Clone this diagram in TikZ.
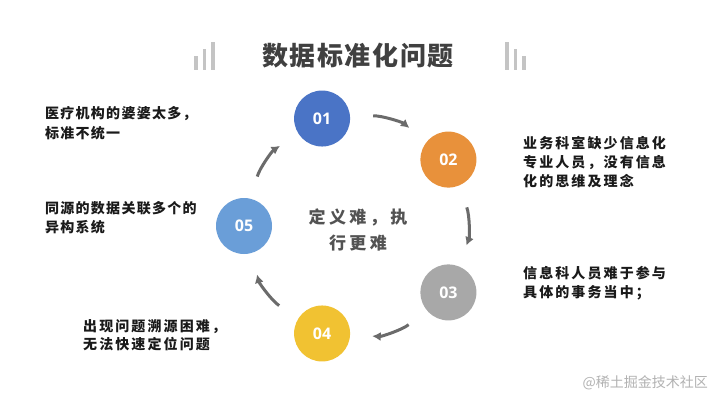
\documentclass[tikz,border=0pt]{standalone}
\usepackage{fontspec}
\setmainfont{Noto Sans CJK SC}
\newfontfamily\numfont{Open Sans}
\newfontfamily\titlefont{Noto Sans CJK SC}[LetterSpace=6]
\newfontfamily\leftfont{Noto Sans CJK SC}[LetterSpace=9]
\newfontfamily\rightfont{Noto Sans CJK SC}[LetterSpace=15]
\newfontfamily\midfont{Noto Sans CJK SC}[LetterSpace=20]
\usetikzlibrary{arrows.meta}
\definecolor{cone}{HTML}{4A74C6}
\definecolor{ctwo}{HTML}{E8913B}
\definecolor{cthree}{HTML}{A8A8A8}
\definecolor{cfour}{HTML}{F1C232}
\definecolor{cfive}{HTML}{6A9ED8}
\definecolor{arrowgray}{HTML}{6B6B6B}
\definecolor{bargray}{HTML}{C4C4C4}
\definecolor{titlegray}{HTML}{404040}
\definecolor{txt}{HTML}{1A1A1A}
\begin{document}
\begin{tikzpicture}[x=1pt,y=1pt,
	num/.style={circle,minimum size=56pt,inner sep=0pt,text=white,font=\numfont\bfseries\fontsize{16}{16}\selectfont},
	note/.style={anchor=west,align=left,inner sep=0pt,text=txt},
	flow/.style={draw=arrowgray,line width=3pt,-{Latex[length=8.5pt,width=9pt]},shorten <=23pt,shorten >=22pt,bend left=21}]
	
	\fill[white](0,0) rectangle (720,405);
	\useasboundingbox (0,0) rectangle (720,405);
	
	\foreach \x/\h in {194/14,202.5/21,211/28}
	\fill[bargray](\x,335) rectangle ++(3.5,\h);
	\foreach \x/\h in {505/28,513.5/21,522/14}
	\fill[bargray](\x,335) rectangle ++(3.5,\h);
	
	\node[text=titlegray,font=\titlefont\bfseries\fontsize{26}{26}\selectfont] (title) at (358,349) {数据标准化问题};
	
	\coordinate (C) at (357,179);
	\foreach \n/\a/\c in {01/108/cone,02/36/ctwo,03/-36/cthree,04/-108/cfour,05/180/cfive}
	\node[num,fill=\c] (n\n) at ([shift={(\a:113)}]C) {\n};
	
	\draw[flow](n01) to (n02);
	\draw[flow](n02) to (n03);
	\draw[flow](n03) to (n04);
	\draw[flow](n04) to (n05);
	\draw[flow](n05) to (n01);
	
	\node[text=titlegray!90,align=center,inner sep=0pt,font=\midfont\bfseries\fontsize{17}{26}\selectfont] (core) at (358,175) {定义难，执\\行更难};
	
	\node[note,font=\leftfont\bfseries\fontsize{14}{20}\selectfont] (t1) at (45,282) {医疗机构的婆婆太多，\\标准不统一};
	\node[note,font=\leftfont\bfseries\fontsize{14}{19.5}\selectfont] (t5) at (45,187.5) {同源的数据关联多个的\\异构系统};
	\node[note,font=\rightfont\bfseries\fontsize{14}{19}\selectfont] (t2) at (523,243) {业务科室缺少信息化\\专业人员，没有信息\\化的思维及理念};
	\node[note,font=\rightfont\bfseries\fontsize{14}{19}\selectfont] (t3) at (523,121.5) {信息科人员难于参与\\具体的事务当中；};
	\node[note,font=\rightfont\bfseries\fontsize{14}{18.5}\selectfont] (t4) at (83,70) {出现问题溯源困难，\\无法快速定位问题};
	
	\node[anchor=east,inner sep=0pt,text=black!30,font=\fontsize{14}{14}\selectfont] (mark) at (708,22) {@稀土掘金技术社区};
\end{tikzpicture}
\end{document}
